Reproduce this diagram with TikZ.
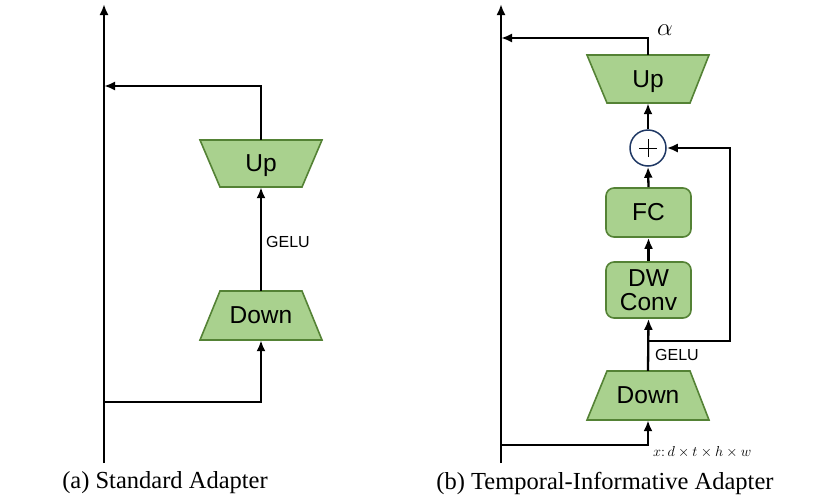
\documentclass[tikz,border=0pt]{standalone}
\usepackage{fontspec}
\setsansfont{Liberation Sans}
\setmainfont{Liberation Serif}
\usetikzlibrary{arrows.meta}
\definecolor{gfill}{HTML}{A9D18E}
\definecolor{gline}{HTML}{548235}
\definecolor{navy}{HTML}{1F3864}
\tikzset{
  trap/.style={fill=gfill, draw=gline, line width=1.6pt, line join=miter},
  boxtext/.style={font=\sffamily\fontsize{24.5}{23}\selectfont, inner sep=0pt, minimum width=122pt, minimum height=47pt, align=center, text depth=0pt},
  rbox/.style={fill=gfill, draw=gline, line width=1.6pt, rounded corners=8pt, font=\sffamily\fontsize{24.5}{24}\selectfont, inner sep=0pt, minimum width=85pt, align=center},
  arr/.style={-{Latex[length=11pt,width=9pt]}, line width=2.3pt},
  small/.style={font=\sffamily\fontsize{16}{16}\selectfont, inner sep=0pt},
  caption/.style={font=\rmfamily\fontsize{24.5}{24}\selectfont, inner sep=0pt},
}
\begin{document}
\begin{tikzpicture}[x=1pt,y=-1pt]
\useasboundingbox (0,0) rectangle (813,499);
% ---------- (a) ----------
\path[trap] (200,140)--(322,140)--(302,187)--(220,187)--cycle;
\node[boxtext] (aup) at (261,163.5) {Up};
\path[trap] (220,291)--(302,291)--(322,340)--(200,340)--cycle;
\node[boxtext, minimum height=49pt] (adown) at (261,315.5) {Down};
\coordinate (abot) at (104,463);
\coordinate (atop) at (104,4);
\coordinate (aj1) at (104,86);
\coordinate (aj2) at (104,402);
\draw[arr] (abot) -- (atop);
\draw[arr] (aup.north) |- (aj1);
\draw[arr] (aj2) -| (adown.south);
\draw[arr] (adown.north) -- (aup.south);
\node[small, anchor=west] (agelu) at (266,242) {GELU};
\node[caption] (capa) at (165,483) {(a) Standard Adapter};
% ---------- (b) ----------
\path[trap] (587,55)--(709,55)--(690,103)--(607,103)--cycle;
\node[boxtext, minimum height=48pt] (bup) at (648,79) {Up};
\path[trap] (607,371)--(690,371)--(709,420)--(587,420)--cycle;
\node[boxtext, minimum height=49pt] (bdown) at (648,395.5) {Down};
\node[rbox, minimum height=49pt] (fc) at (648.5,212.5) {FC};
\node[rbox, minimum height=56pt] (dw) at (648.5,290) {DW\\Conv};
\node[circle, draw=navy, line width=1.5pt, fill=white, minimum size=36pt, inner sep=0pt] (plus) at (648,148) {};
\draw[line width=1pt] ([xshift=-9pt]plus.center) -- ([xshift=9pt]plus.center);
\draw[line width=1pt] ([yshift=-9pt]plus.center) -- ([yshift=9pt]plus.center);
\coordinate (bbot) at (501,463);
\coordinate (btop) at (501,4);
\coordinate (bj1) at (501,38);
\coordinate (bj2) at (501,445);
\coordinate (bs1) at (648,341);
\coordinate (bsk) at (730,341);
\draw[arr] (bbot) -- (btop);
\draw[arr] (bup.north) |- (bj1);
\draw[arr] (bj2) -| (bdown.south);
\draw[arr] (bdown.north) -- (dw.south);
\draw[arr] (dw.north) -- (fc.south);
\draw[arr] (fc.north) -- (plus.south);
\draw[arr] (plus.north) -- (bup.south);
\draw[arr] (bs1) -- (bsk) |- (plus.east);
\node[font=\fontsize{23}{23}\selectfont, inner sep=0pt] (alpha) at (665,30) {$\alpha$};
\node[small, anchor=west] (bgelu) at (655,355) {GELU};
\node[anchor=west, inner sep=0pt, font=\fontsize{14}{14}\selectfont] (xlab) at (653,452) {$x\colon d\times t\times h\times w$};
\node[caption] (capb) at (605,483) {(b) Temporal-Informative Adapter};
\end{tikzpicture}
\end{document}
